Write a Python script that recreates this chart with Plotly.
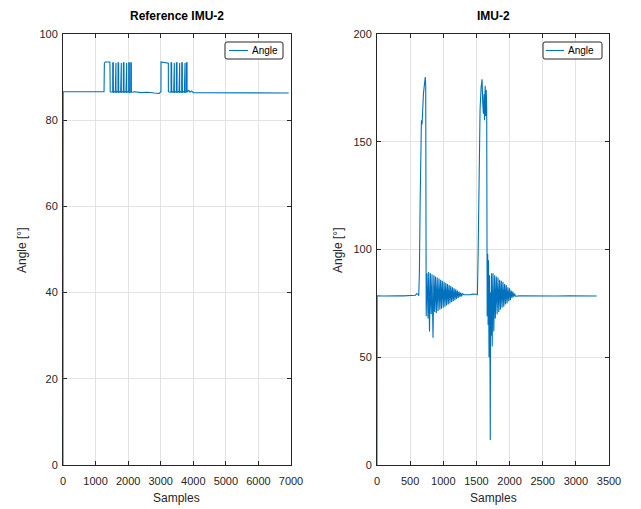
import plotly.graph_objects as go

# ---------------- data ----------------
ref_samples = [0, 5, 1260, 1270, 1300, 1440, 1450, 1500,
               1525, 1527, 1545, 1547, 1580,
               1605, 1607, 1625, 1627, 1660,
               1688, 1690, 1708, 1710, 1745,
               1770, 1772, 1790, 1792, 1825,
               1852, 1854, 1872, 1874, 1910,
               1934, 1936, 1954, 1956, 1990,
               2016, 2018, 2036, 2038, 2060,
               2078, 2080, 2098, 2100, 2200, 2400, 2600, 2800, 2950, 2990,
               3008, 3010, 3100, 3234, 3236, 3280,
               3316, 3318, 3336, 3338, 3370,
               3398, 3400, 3418, 3420, 3455,
               3480, 3482, 3500, 3502, 3535,
               3562, 3564, 3582, 3584, 3620,
               3644, 3646, 3664, 3666, 3700,
               3726, 3728, 3746, 3748, 3765,
               3788, 3790, 3808, 3810, 3860, 3900, 3950, 4000, 4200,
               4600, 5000, 5500, 6000, 6500, 6930]
ref_angle = [0, 86.6, 86.6, 93.3, 93.5, 93.5, 86.6, 86.5,
             86.5, 93.3, 93.3, 86.4, 86.6,
             86.5, 93.3, 93.3, 86.4, 86.6,
             86.5, 93.3, 93.3, 86.4, 86.6,
             86.5, 93.3, 93.3, 86.4, 86.6,
             86.5, 93.3, 93.3, 86.4, 86.6,
             86.5, 93.3, 93.3, 86.4, 86.6,
             86.5, 93.3, 93.3, 86.4, 86.6,
             86.5, 93.3, 93.3, 86.5, 86.6, 86.4, 86.5, 86.3, 86.2, 86.5,
             86.6, 93.5, 93.4, 93.2, 86.6, 86.5,
             86.5, 93.3, 93.3, 86.4, 86.6,
             86.5, 93.3, 93.3, 86.4, 86.6,
             86.5, 93.3, 93.3, 86.4, 86.6,
             86.5, 93.3, 93.3, 86.4, 86.6,
             86.5, 93.3, 93.3, 86.4, 86.6,
             86.5, 93.3, 93.3, 86.4, 86.6,
             86.5, 93.3, 93.3, 86.5, 86.9, 86.5, 86.8, 86.4, 86.4,
             86.4, 86.3, 86.4, 86.3, 86.3, 86.3]

imu_samples = [0, 2, 100, 200, 300, 400, 500, 580, 600, 620, 630,
               640, 650, 660, 670, 680, 690, 700, 710, 720, 728, 735,
               742, 755, 770, 780, 792, 805, 818, 830, 845, 858, 870, 882,
               895, 908, 920, 935, 948, 960, 973, 985, 1000, 1012, 1025,
               1038, 1050, 1063, 1075, 1088, 1100, 1113, 1125, 1138, 1150,
               1163, 1175, 1188, 1200, 1213, 1225, 1238, 1250, 1263, 1275,
               1290, 1310, 1400, 1450, 1500, 1515,
               1525, 1540, 1555, 1570, 1585, 1595, 1605, 1615, 1622, 1632,
               1640, 1648, 1655, 1662, 1670, 1676, 1682, 1690, 1698, 1705,
               1709, 1713, 1720, 1728, 1738, 1750, 1762, 1775, 1785, 1800,
               1812, 1825, 1837, 1850, 1862, 1875, 1887, 1900, 1912, 1925,
               1937, 1950, 1962, 1975, 1987, 2000, 2012, 2025, 2037, 2050,
               2062, 2075, 2090, 2150, 2300, 2500, 2700, 2900, 3100, 3315]
imu_angle = [0, 78.5, 78.4, 78.6, 78.5, 78.5, 78.6, 78.8, 79.5, 79.2, 78.5,
             90, 120, 150, 160, 158, 168, 172, 175, 178, 180, 176,
             69, 89, 68, 89.5, 62, 89, 70, 88.5, 59, 88, 71, 87.5,
             70.5, 87, 71.5, 86.5, 72, 86, 72.5, 85.5, 73, 85, 73.5,
             84.5, 74, 84, 74.5, 83.5, 75, 83, 75.5, 82.5, 76,
             82, 76.5, 81.5, 77, 81, 77.5, 80.5, 78, 80, 78.3,
             79.5, 79, 79, 79.3, 79.2, 79,
             97, 140, 165, 175, 179, 168, 163, 172, 160, 176,
             162, 174, 165, 69, 98, 65, 95, 50, 88, 46,
             11.6, 80, 60, 89, 55, 89, 62, 88, 68, 87.5,
             70, 87, 71, 86, 72, 85.5, 73, 85, 73.5, 84,
             74.5, 83.5, 75, 82.5, 76, 82, 76.5, 81, 77.5, 80.5,
             78, 79.5, 78.3, 78.5, 78.4, 78.5, 78.4, 78.5, 78.4, 78.4]

series_name = "Angle"
left_xticks = [0, 1000, 2000, 3000, 4000, 5000, 6000, 7000]
left_yticks = [0, 20, 40, 60, 80, 100]
right_xticks = [0, 500, 1000, 1500, 2000, 2500, 3000, 3500]
right_yticks = [0, 50, 100, 150, 200]

# ---------------- figure ----------------
W, H = 641, 509
BLUE = "#0072BD"
AX = "#262626"
FONT = "Liberation Sans"

fig = go.Figure()
fig.add_trace(go.Scatter(x=ref_samples, y=ref_angle, mode="lines", name=series_name,
                         line=dict(color=BLUE, width=1.1), xaxis="x", yaxis="y",
                         showlegend=False))
fig.add_trace(go.Scatter(x=imu_samples, y=imu_angle, mode="lines", name=series_name,
                         line=dict(color=BLUE, width=1.1), xaxis="x2", yaxis="y2",
                         showlegend=False))

def px_x(p):
    return p / W

def px_y(p):
    return 1 - p / H

axis_common = dict(showline=True, linecolor=AX, linewidth=1, mirror="ticks",
                   ticks="inside", ticklen=4, tickcolor=AX, showgrid=True,
                   gridcolor="#e3e3e3", gridwidth=1, zeroline=False,
                   tickfont=dict(family=FONT, size=11, color=AX),
                   automargin=False, layer="below traces")

ydom = [px_y(465), px_y(34)]
fig.update_layout(
    width=W, height=H, margin=dict(l=0, r=0, t=0, b=0),
    paper_bgcolor="white", plot_bgcolor="white",
    font=dict(family=FONT, color=AX),
    showlegend=False,
    xaxis=dict(domain=[px_x(63), px_x(291)], range=[0, 7000], tickvals=left_xticks,
               anchor="y", ticklabelstandoff=6, **axis_common),
    yaxis=dict(domain=ydom, range=[0, 100], tickvals=left_yticks, anchor="x",
               ticklabelstandoff=2, **axis_common),
    xaxis2=dict(domain=[px_x(377), px_x(609)], range=[0, 3500], tickvals=right_xticks,
                anchor="y2", ticklabelstandoff=6, **axis_common),
    yaxis2=dict(domain=ydom, range=[0, 200], tickvals=right_yticks, anchor="x2",
                ticklabelstandoff=2, **axis_common),
)

# legend boxes (drawn as shapes + real text)
def rounded_rect(x0, y0, x1, y1, r=2):
    X0, X1 = px_x(x0), px_x(x1)
    Y0, Y1 = px_y(y0), px_y(y1)
    rx, ry = r / W, r / H
    return (f"M {X0+rx},{Y0} L {X1-rx},{Y0} Q {X1},{Y0} {X1},{Y0-ry} "
            f"L {X1},{Y1+ry} Q {X1},{Y1} {X1-rx},{Y1} L {X0+rx},{Y1} "
            f"Q {X0},{Y1} {X0},{Y1+ry} L {X0},{Y0-ry} Q {X0},{Y0} {X0+rx},{Y0} Z")

shapes = []
ann = []
for (bx0, bx1, lx0, lx1, tx) in [(225, 283, 229, 248, 250), (543, 602, 546, 564, 566)]:
    shapes.append(dict(type="path", path=rounded_rect(bx0, 42, bx1, 59), xref="paper",
                       yref="paper", line=dict(color=AX, width=1), fillcolor="white"))
    shapes.append(dict(type="line", x0=px_x(lx0), x1=px_x(lx1), y0=px_y(50.5), y1=px_y(50.5),
                       xref="paper", yref="paper", line=dict(color=BLUE, width=1.1)))
    ann.append(dict(text=series_name, x=px_x(tx), y=px_y(50.5), xref="paper", yref="paper",
                    xanchor="left", yanchor="middle", showarrow=False,
                    font=dict(family=FONT, size=10, color="#000")))

ann.append(dict(text="<b>Reference IMU-2</b>", x=px_x(177), y=px_y(16), xref="paper",
                yref="paper", xanchor="center", yanchor="middle", showarrow=False,
                font=dict(family=FONT, size=12, color="#000")))
ann.append(dict(text="<b>IMU-2</b>", x=px_x(493), y=px_y(16), xref="paper",
                yref="paper", xanchor="center", yanchor="middle", showarrow=False,
                font=dict(family=FONT, size=12, color="#000")))
ann.append(dict(text="Samples", x=px_x(177), y=px_y(498), xref="paper", yref="paper",
                xanchor="center", yanchor="middle", showarrow=False,
                font=dict(family=FONT, size=12, color=AX)))
ann.append(dict(text="Samples", x=px_x(493), y=px_y(498), xref="paper", yref="paper",
                xanchor="center", yanchor="middle", showarrow=False,
                font=dict(family=FONT, size=12, color=AX)))
ann.append(dict(text="Angle [°]", x=px_x(22), y=px_y(250), xref="paper", yref="paper",
                xanchor="center", yanchor="middle", showarrow=False, textangle=-90,
                font=dict(family=FONT, size=12, color=AX)))
ann.append(dict(text="Angle [°]", x=px_x(338), y=px_y(250), xref="paper", yref="paper",
                xanchor="center", yanchor="middle", showarrow=False, textangle=-90,
                font=dict(family=FONT, size=12, color=AX)))
fig.update_layout(annotations=ann, shapes=shapes)

fig.write_html("out.html")
